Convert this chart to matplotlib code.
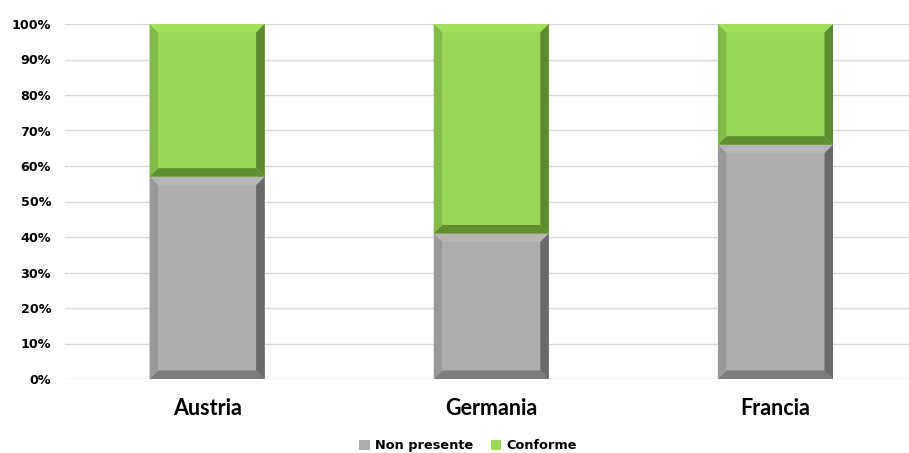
import matplotlib
matplotlib.use("Agg")
import matplotlib.pyplot as plt
from matplotlib.patches import Polygon

categories = ["Austria", "Germania", "Francia"]
non_presente = [57, 41, 66]
conforme = [43, 59, 34]
series_names = ["Non presente", "Conforme"]
yticks = [0, 10, 20, 30, 40, 50, 60, 70, 80, 90, 100]
ytick_labels = [f"{v}%" for v in yticks]

W, H = 909, 453
fig = plt.figure(figsize=(W / 100, H / 100), dpi=100)
ax_left, ax_right, ax_top, ax_bottom = 65, 909, 24, 379
ax = fig.add_axes([ax_left / W, (H - ax_bottom) / H,
                   (ax_right - ax_left) / W, (ax_bottom - ax_top) / H])

x = list(range(len(categories)))
bw = 0.405
gray = dict(face="#ADADAD", top="#B6B6B6", left="#999999", right="#6A6A6A", bottom="#7B7B7B")
green = dict(face="#9AD957", top="#A1DF5D", left="#82BC47", right="#5B8A2F", bottom="#5F8F31")

b1 = ax.bar(x, non_presente, width=bw, color=gray["face"], label=series_names[0], zorder=3)
b2 = ax.bar(x, conforme, width=bw, bottom=non_presente, color=green["face"],
            label=series_names[1], zorder=3)

xlim = (-0.5, 2.47)
ax.set_xlim(*xlim)
ax.set_ylim(0, 100)

# bevel size in data units
bpx = 8.5
bx = bpx * (xlim[1] - xlim[0]) / (ax_right - ax_left)
by = bpx * 100 / (ax_bottom - ax_top)


def bevel(rect, c):
    x0 = rect.get_x(); x1 = x0 + rect.get_width()
    y0 = rect.get_y(); y1 = y0 + rect.get_height()
    polys = [
        ([(x0, y1), (x1, y1), (x1 - bx, y1 - by), (x0 + bx, y1 - by)], c["top"]),
        ([(x0, y0), (x1, y0), (x1 - bx, y0 + by), (x0 + bx, y0 + by)], c["bottom"]),
        ([(x0, y0), (x0, y1), (x0 + bx, y1 - by), (x0 + bx, y0 + by)], c["left"]),
        ([(x1, y0), (x1, y1), (x1 - bx, y1 - by), (x1 - bx, y0 + by)], c["right"]),
    ]
    for pts, col in polys:
        ax.add_patch(Polygon(pts, closed=True, facecolor=col, edgecolor="none", zorder=4))


for r in b1:
    bevel(r, gray)
for r in b2:
    bevel(r, green)

ax.set_yticks(yticks)
ax.set_yticklabels(ytick_labels, fontsize=9.2, fontweight="bold", family="DejaVu Sans")
ax.set_xticks(x)
ax.set_xticklabels(categories, fontsize=15.5, fontweight="bold", family="Lato")
ax.tick_params(axis="both", length=0)
ax.tick_params(axis="y", pad=10)
ax.tick_params(axis="x", pad=14)
ax.yaxis.grid(True, color="#D9D9D9", linewidth=1.0, zorder=0)
ax.set_axisbelow(True)
for s in ax.spines.values():
    s.set_visible(False)

leg = fig.legend(handles=[b1, b2], labels=series_names, loc="lower center",
                 bbox_to_anchor=(0.515, -0.024), ncol=2, frameon=False,
                 handlelength=0.8, handleheight=0.8, handletextpad=0.4, columnspacing=1.4,
                 prop=dict(family="DejaVu Sans", weight="bold", size=9.3))

fig.savefig("out.png", dpi=100)
